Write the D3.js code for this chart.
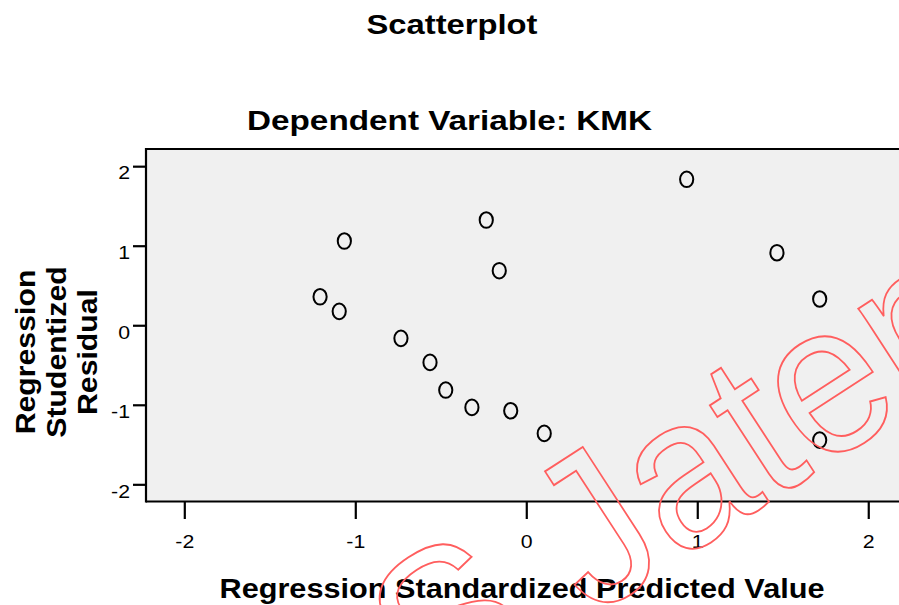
<!DOCTYPE html>
<html>
<head>
<meta charset="utf-8">
<script src="https://cdn.jsdelivr.net/npm/d3@7/dist/d3.min.js"></script>
<style>
  html, body { margin: 0; padding: 0; background: #ffffff; }
  svg { display: block; }
  text { font-family: "Liberation Sans", Arial, sans-serif; }
</style>
</head>
<body>
<svg id="chart" width="899" height="605"></svg>
<script>
// ---- data ----
const predicted = [-1.206, -1.094, -1.064, -0.733, -0.563, -0.471, -0.318, -0.234, -0.158, -0.091, 0.105, 0.938, 1.466, 1.716, 1.716];
const residual  = [ 0.358,  0.175,  1.059, -0.165, -0.467, -0.815, -1.033,  1.323,  0.686, -1.075, -1.360, 1.835, 0.912, 0.330, -1.444];
const xTicks = [-2, -1, 0, 1, 2];
const yTicks = [-2, -1, 0, 1, 2];
const mainTitle = "Scatterplot";
const subTitle = "Dependent Variable: KMK";
const xTitle = "Regression Standardized Predicted Value";
const yTitleLines = ["Regression", "Studentized", "Residual"];
const watermarkText = "S Jateng";

const svg = d3.select("#chart");

const x = d3.scaleLinear().domain([-2.224, 2.25]).range([146, 911]);
const y = d3.scaleLinear().domain([-2.216, 2.216]).range([501.5, 149]);

function stretch(sel, k) {
  sel.each(function() {
    const len = this.getComputedTextLength();
    d3.select(this).attr("textLength", len * k).attr("lengthAdjust", "spacingAndGlyphs");
  });
}
const fmt = d => String(d);

// plot background
svg.append("rect")
  .attr("x", x.range()[0]).attr("y", y.range()[1])
  .attr("width", x.range()[1] - x.range()[0])
  .attr("height", y.range()[0] - y.range()[1])
  .attr("fill", "#f0f0f0");

// frame lines (top, left, bottom)
const frame = svg.append("g").attr("stroke", "#000").attr("stroke-width", 2.2).attr("fill", "none");
frame.append("line").attr("x1", x.range()[0]).attr("x2", x.range()[1]).attr("y1", y.range()[1]).attr("y2", y.range()[1]);
frame.append("line").attr("x1", x.range()[0]).attr("x2", x.range()[0]).attr("y1", y.range()[1] - 1.1).attr("y2", y.range()[0] + 1.1);
frame.append("line").attr("x1", x.range()[0]).attr("x2", x.range()[1]).attr("y1", y.range()[0]).attr("y2", y.range()[0]);

// y axis
const gy = svg.append("g").attr("transform", `translate(${x.range()[0]},0)`)
  .call(d3.axisLeft(y).tickValues(yTicks).tickSize(13).tickPadding(3).tickFormat(fmt));
gy.select(".domain").remove();
gy.selectAll(".tick line").attr("stroke", "#000").attr("stroke-width", 2.2);
gy.selectAll(".tick text").attr("dy", 0).attr("y", 12.8)
  .attr("font-size", 18.5).attr("fill", "#000").attr("font-family", "Liberation Sans, Arial, sans-serif")
  .call(stretch, 1.15);

// x axis
const gx = svg.append("g").attr("transform", `translate(0,${y.range()[0]})`)
  .call(d3.axisBottom(x).tickValues(xTicks).tickSize(17.5).tickFormat(fmt));
gx.select(".domain").remove();
gx.selectAll(".tick line").attr("stroke", "#000").attr("stroke-width", 2.2);
gx.selectAll(".tick text").attr("dy", 0).attr("y", 46.5)
  .attr("font-size", 18.5).attr("fill", "#000").attr("font-family", "Liberation Sans, Arial, sans-serif")
  .call(stretch, 1.15);

// points
svg.append("g").selectAll("ellipse")
  .data(predicted.map((p, i) => [p, residual[i]]))
  .join("ellipse")
  .attr("cx", d => x(d[0])).attr("cy", d => y(d[1]))
  .attr("rx", 6.6).attr("ry", 7.8)
  .attr("fill", "none").attr("stroke", "#000").attr("stroke-width", 2);

// titles
svg.append("text").attr("x", 452).attr("y", 34).attr("text-anchor", "middle")
  .attr("font-size", 27).attr("font-weight", "bold").text(mainTitle)
  .attr("textLength", 171).attr("lengthAdjust", "spacingAndGlyphs");
svg.append("text").attr("x", 449.5).attr("y", 130).attr("text-anchor", "middle")
  .attr("font-size", 27).attr("font-weight", "bold").text(subTitle)
  .attr("textLength", 405).attr("lengthAdjust", "spacingAndGlyphs");
svg.append("text").attr("x", 522).attr("y", 598).attr("text-anchor", "middle")
  .attr("font-size", 28).attr("font-weight", "bold").text(xTitle)
  .attr("textLength", 605).attr("lengthAdjust", "spacingAndGlyphs");

// y title (rotated, three lines)
const yt = svg.append("g").attr("transform", "translate(35,352) rotate(-90)");
yTitleLines.forEach((t, i) => {
  yt.append("text").attr("x", 0).attr("y", i * 31).attr("text-anchor", "middle")
    .attr("font-size", 27).attr("font-weight", "bold").text(t)
    .call(stretch, 1.12);
});

// watermark (outlined red text)
svg.append("text")
  .attr("transform", "translate(433.6,720.1) rotate(-33) scale(0.93,1)")
  .attr("font-size", 215)
  .attr("fill", "none").attr("stroke", "#ff5e5e").attr("stroke-width", 1.8)
  .attr("vector-effect", "non-scaling-stroke")
  .text(watermarkText);
</script>
</body>
</html>
